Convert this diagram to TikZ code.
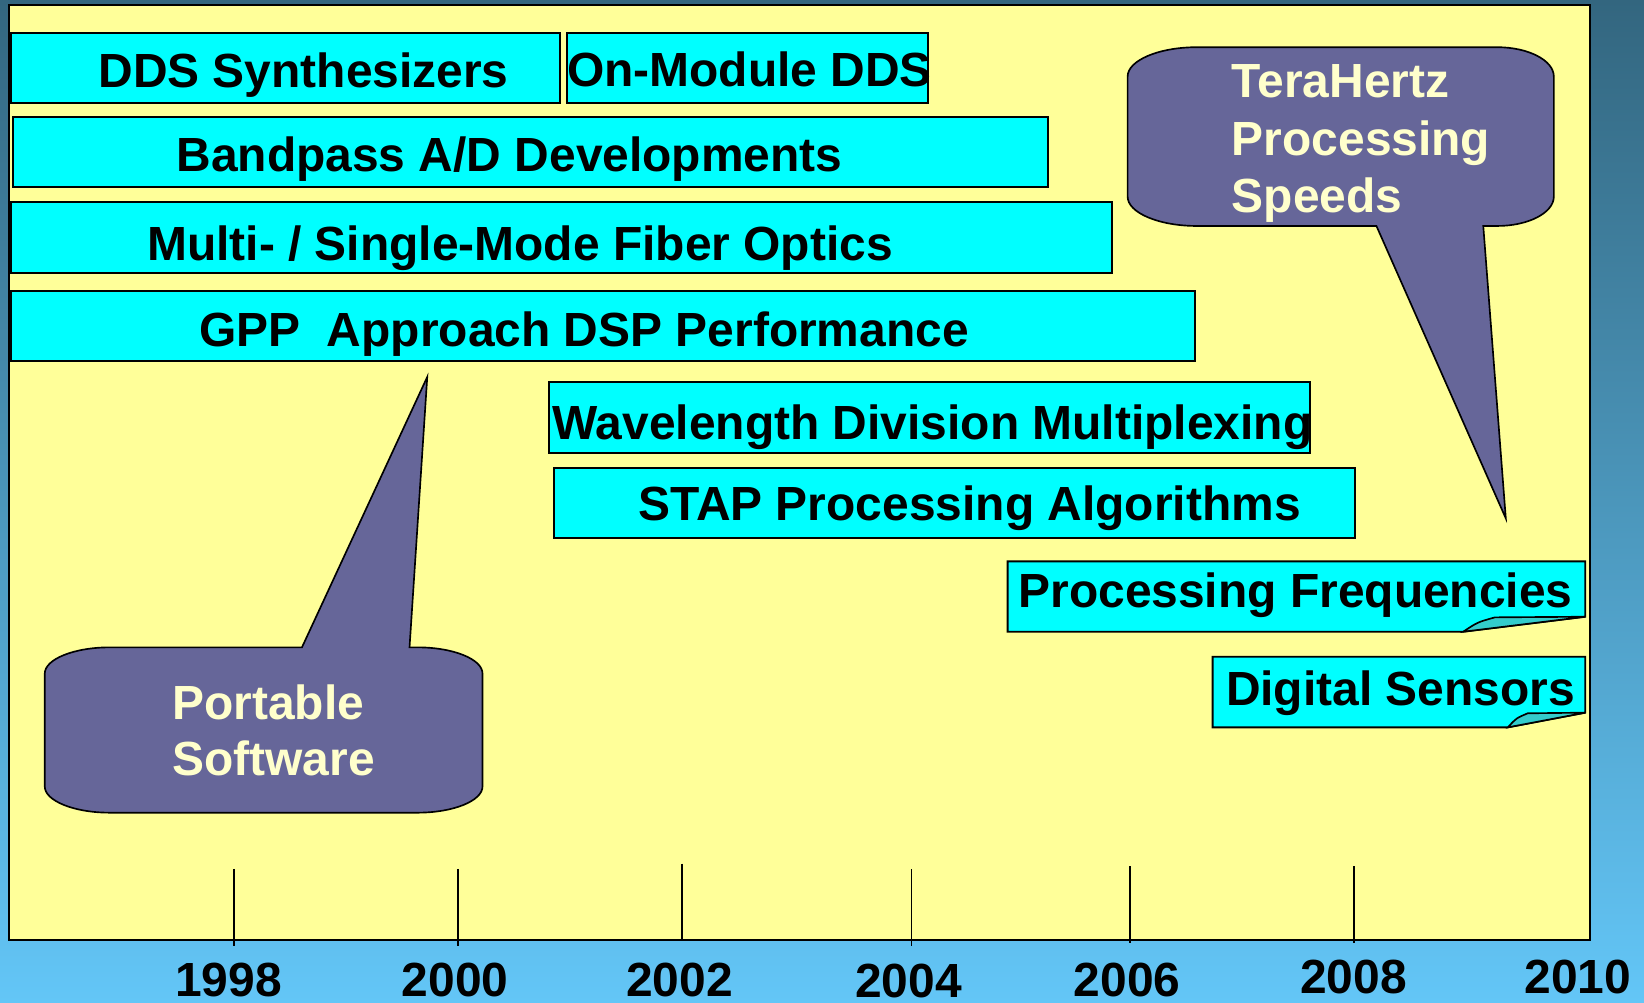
\documentclass[tikz,border=0pt]{standalone}
\usepackage{fontspec}
\setmainfont{Liberation Sans}
\usepackage{xcolor}
\usepackage{tikz}

\definecolor{bgtop}{HTML}{33667F}
\definecolor{bgbot}{HTML}{63C6F7}
\definecolor{panelyellow}{HTML}{FFFF99}
\definecolor{barcyan}{HTML}{00FFFF}
\definecolor{foldcyan}{HTML}{33CCCC}
\definecolor{calloutblue}{HTML}{666699}
\definecolor{callouttext}{HTML}{FFFFCC}
\pgfdeclareverticalshading{bgfade}{100bp}{color(0bp)=(bgbot); color(25bp)=(bgbot); color(75bp)=(bgtop); color(100bp)=(bgtop)}

\begin{document}
\begin{tikzpicture}[x=0.01cm,y=-0.01cm,line width=0.5pt,
    bar/.style={fill=barcyan,draw=black,line width=0.5pt},
    flap/.style={fill=foldcyan,draw=black,line width=0.45pt},
    callout/.style={fill=calloutblue,draw=black,line width=0.45pt},
    lbl/.style={inner sep=0pt,anchor=base west,font=\bfseries\fontsize{13}{15.5}\selectfont},
    year/.style={inner sep=0pt,anchor=base,font=\bfseries\fontsize{13}{15.5}\selectfont},
    bubble/.style={inner sep=0pt,anchor=base west,align=left,text=callouttext,font=\bfseries\fontsize{13}{15.6}\selectfont}]
    \useasboundingbox (0,0) rectangle (1568,956);
    \shade[shading=bgfade] (0,0) rectangle (1568,956);
    \draw[fill=panelyellow,line width=0.55pt] (9,4.8) rectangle (1516.5,896.5);

    \draw[bar] (10.2,31.2) rectangle (534.4,98.5);
    \draw[bar] (540.8,31.2) rectangle (885.1,98.6);
    \draw[bar] (12.8,111.3) rectangle (999.7,178);
    \draw[bar] (10.2,192.3) rectangle (1060.6,260.3);
    \draw[bar] (10.2,277.2) rectangle (1139.7,344.6);
    \draw[bar] (523.9,364.2) rectangle (1249.7,431.7);
    \draw[bar] (528.4,446.4) rectangle (1292.6,513.4);
    \draw[bar] (961,535.4) -- (1512,535.4) -- (1512,588.2) -- (1395.6,602.5) -- (961,602.5) -- cycle;
    \draw[flap] (1395.6,602.5) .. controls (1409,593.5) .. (1425.8,588.8) -- (1512,588.2) -- cycle;
    \draw[bar] (1156.6,626.3) -- (1512,626.3) -- (1512,679.7) -- (1438.2,693.7) -- (1156.6,693.7) -- cycle;
    \draw[flap] (1438.2,693.7) .. controls (1446,685) .. (1457.1,680.3) -- (1512,679.7) -- cycle;

    \foreach \tx/\ttop/\tbot in {223.3/828.8/902,436.8/828.8/902,650.3/823.7/896.5,869.2/829/902,1077.7/826/899.5,1291.3/826/899.5}
      \draw[line width=0.4pt] (\tx,\ttop) -- (\tx,\tbot);

    \draw[callout] (1141.5,45) -- (1428,45) .. controls (1457.7,45) and (1482,57.6) .. (1482,73)
      -- (1482,187.5) .. controls (1482,202.9) and (1457.7,215.5) .. (1428,215.5)
      -- (1414.7,215.5) -- (1436.2,494.4) -- (1312.8,215.5) -- (1141.5,215.5)
      .. controls (1105.2,215.5) and (1075.5,202.9) .. (1075.5,187.5) -- (1075.5,73)
      .. controls (1075.5,57.6) and (1105.2,45) .. (1141.5,45) -- cycle;
    \draw[callout] (104.7,617.4) -- (288,617.4) -- (407.5,359.5) -- (390.6,617.4) -- (398.2,617.4)
      .. controls (432.3,617.4) and (460.2,628.7) .. (460.2,642.4) -- (460.2,750.1)
      .. controls (460.2,763.8) and (432.3,775.1) .. (398.2,775.1) -- (104.7,775.1)
      .. controls (70.6,775.1) and (42.7,763.8) .. (42.7,750.1) -- (42.7,642.4)
      .. controls (42.7,628.7) and (70.6,617.4) .. (104.7,617.4) -- cycle;

    \node[lbl] (dds) at (93,83) {DDS Synthesizers};
    \node[lbl] (onmod) at (540,82.7) {On-Module DDS};
    \node[lbl] (bandpass) at (167.5,164) {Bandpass A/D Developments};
    \node[lbl] (fiber) at (139.5,248) {Multi- / Single-Mode Fiber Optics};
    \node[lbl] (gpp) at (189,330) {GPP\ \ Approach DSP Performance};
    \node[lbl] (wdm) at (526,419.6) {Wavelength Division Multiplexing};
    \node[lbl] (stap) at (608,496) {STAP Processing Algorithms};
    \node[lbl] (procfreq) at (970.5,579.2) {Processing Frequencies};
    \node[lbl] (sensors) at (1168.5,672.4) {Digital Sensors};

    \node[bubble] (thz) at (1174,202.8) {TeraHertz\\Processing\\Speeds};
    \node[bubble,font=\bfseries\fontsize{13}{15.2}\selectfont] (portable) at (163.5,739.2) {Portable\\Software};

    \foreach \yr/\yx/\yb in {1998/218/950,2000/434/950,2002/648/950,2004/866.5/951,2006/1075/950,2008/1291/947.5,2010/1505/947.5}
      \node[year] (yr\yr) at (\yx,\yb) {\yr};
\end{tikzpicture}
\end{document}
